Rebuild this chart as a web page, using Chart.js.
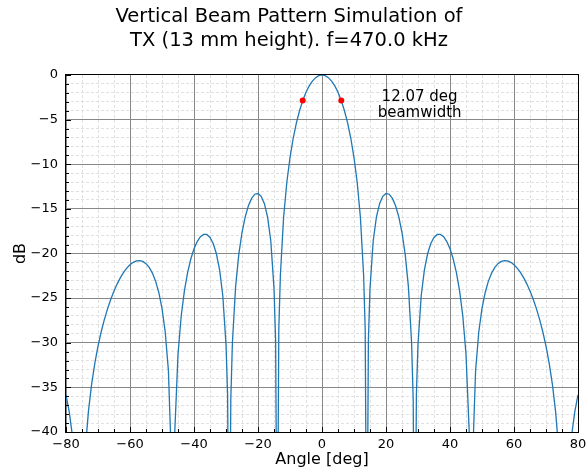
<!DOCTYPE html>
<html><head><meta charset="utf-8">
<script src="https://cdn.jsdelivr.net/npm/chart.js@4/dist/chart.umd.min.js"></script>
<style>html,body{margin:0;padding:0;background:#fff}canvas{display:block}</style>
</head><body>
<canvas id="c" width="588" height="474"></canvas>
<script>
const titleLines = ['Vertical Beam Pattern Simulation of', 'TX (13 mm height). f=470.0 kHz'];
const xAxisLabel = 'Angle [deg]';
const yAxisLabel = 'dB';

// beam pattern (deg, dB)
const angleDeg = [
 -80,-79,-78,-77,-76,-75,-74,-73,-72,-71,-70,-69,-68,-67,-66,-65,-64,-63,-62,-61,
 -60,-59,-58,-57,-56,-55,-54,-53,-52,-51,-50,-49,-48,-47,-46.5,-46,-45,-44,-43,-42,
 -41,-40,-39,-38,-37,-36,-35,-34,-33,-32,-31,-30,-29.5,-29,-28.5,-28,-27,-26,-25,-24,
 -23,-22,-21,-20,-19,-18,-17,-16,-15,-14.5,-14,-13.5,-13,-12,-11,-10,-9,-8,-7,-6,
 -5,-4,-3,-2,-1,0,1,2,3,4,5,6,7,8,9,10,11,12,13,13.5,
 14,14.5,15,16,17,18,19,20,21,22,23,24,25,26,27,28,28.5,29,29.5,30,
 31,32,33,34,35,36,37,38,39,40,41,42,43,44,45,46,46.5,47,48,49,
 50,51,52,53,54,55,56,57,58,59,60,61,62,63,64,65,66,67,68,69,
 70,71,72,73,74,75,76,77,78,79,80
];
const levelDb = [
 -35.84,-37.72,-40.41,-44.86,-56.22,-50.55,-42.13,-37.72,-34.66,-32.31,-30.39,-28.77,-27.38,-26.18,-25.12,-24.20,-23.40,-22.71,-22.12,-21.64,
 -21.26,-20.99,-20.83,-20.79,-20.89,-21.14,-21.56,-22.20,-23.10,-24.37,-26.15,-28.77,-33.11,-43.75,-55.5,-39.92,-31.28,-27.00,-24.18,-22.14,
 -20.62,-19.48,-18.66,-18.12,-17.86,-17.87,-18.20,-18.88,-20.03,-21.83,-24.74,-30.18,-35.77,-61.5,-36.40,-30.01,-23.71,-20.10,-17.65,-15.90,
 -14.66,-13.83,-13.36,-13.28,-13.60,-14.42,-15.93,-18.60,-23.91,-29.73,-58.8,-28.54,-22.38,-15.94,-12.05,-9.25,-7.09,-5.37,-3.98,-2.85,
 -1.94,-1.22,-0.68,-0.30,-0.07,0,-0.07,-0.30,-0.68,-1.22,-1.94,-2.85,-3.98,-5.37,-7.09,-9.25,-12.05,-15.94,-22.38,-28.54,
 -58.8,-29.73,-23.91,-18.60,-15.93,-14.42,-13.60,-13.28,-13.36,-13.83,-14.66,-15.90,-17.65,-20.10,-23.71,-30.01,-36.40,-61.5,-35.77,-30.18,
 -24.74,-21.83,-20.03,-18.88,-18.20,-17.87,-17.86,-18.12,-18.66,-19.48,-20.62,-22.14,-24.18,-27.00,-31.28,-39.92,-55.5,-43.75,-33.11,-28.77,
 -26.15,-24.37,-23.10,-22.20,-21.56,-21.14,-20.89,-20.79,-20.83,-20.99,-21.26,-21.64,-22.12,-22.71,-23.40,-24.20,-25.12,-26.18,-27.38,-28.77,
 -30.39,-32.31,-34.66,-37.72,-42.13,-50.55,-56.22,-44.86,-40.41,-37.72,-35.84
];

// -3 dB points
const halfPowerAngles = [-6.035, 6.035];
const halfPowerLevels = [-2.87, -2.87];

// annotation
const beamwidthText = ['12.07 deg', 'beamwidth'];
const beamwidthAt = [30.5, -3.36];

// axes
const xRange = [-80, 80];
const yRange = [-40, 0];
const xMajorStep = 20, xMinorStep = 5;
const yMajorStep = 5, yMinorStep = 1;

const FONT = 'DejaVu Sans';
const fmt = v => String(v).replace('-', '\u2212');

const framePlugin = {
  id: 'frame',
  afterDraw(chart) {
    const {ctx, chartArea: a, scales} = chart;
    ctx.save();
    ctx.strokeStyle = '#000';
    ctx.lineWidth = 1;
    const tick = (scale, len, horizontal) => {
      scale.ticks.forEach(t => {
        const p = Math.round(scale.getPixelForValue(t.value)) + 0.5;
        ctx.beginPath();
        if (horizontal) { ctx.moveTo(p, a.bottom); ctx.lineTo(p, a.bottom - len); }
        else { ctx.moveTo(a.left, p); ctx.lineTo(a.left + len, p); }
        ctx.stroke();
      });
    };
    tick(scales.xMinor, 3, true);
    tick(scales.x, 5, true);
    tick(scales.yMinor, 3, false);
    tick(scales.y, 5, false);
    ctx.strokeRect(Math.round(a.left) - 0.5, Math.round(a.top) - 0.5,
                   Math.round(a.right - a.left) + 1, Math.round(a.bottom - a.top) + 1);
    ctx.fillStyle = '#000';
    ctx.font = '15px "' + FONT + '"';
    ctx.textAlign = 'center';
    ctx.textBaseline = 'middle';
    const cx = scales.x.getPixelForValue(beamwidthAt[0]);
    const cy = scales.y.getPixelForValue(beamwidthAt[1]);
    ctx.fillText(beamwidthText[0], cx, cy - 8.3);
    ctx.fillText(beamwidthText[1], cx, cy + 8.3);
    ctx.restore();
  }
};

const noPadH = s => { s.paddingLeft = 0; s.paddingRight = 0; };
const noPadV = s => { s.paddingTop = 0; s.paddingBottom = 0; };

new Chart(document.getElementById('c'), {
  type: 'line',
  data: {
    datasets: [
      {
        label: 'pattern',
        data: angleDeg.map((a, i) => ({x: a, y: levelDb[i]})),
        borderColor: '#1f77b4', borderWidth: 1.3, pointRadius: 0, tension: 0,
        fill: false, xAxisID: 'x', yAxisID: 'y', order: 2
      },
      {
        label: 'half power',
        data: halfPowerAngles.map((a, i) => ({x: a, y: halfPowerLevels[i]})),
        showLine: false, pointRadius: 3, pointBackgroundColor: '#ff0000',
        pointBorderColor: '#ff0000', pointBorderWidth: 0, borderColor: '#ff0000',
        xAxisID: 'x', yAxisID: 'y', order: 1, clip: false
      }
    ]
  },
  options: {
    responsive: false, animation: false, devicePixelRatio: 1,
    layout: {padding: {left: 0, right: 10, top: 0, bottom: 0}},
    plugins: {
      legend: {display: false}, tooltip: {enabled: false},
      title: {
        display: true, text: titleLines, color: '#000',
        font: {family: FONT, size: 19.5, weight: 'normal', lineHeight: 1.23},
        padding: {top: 5, bottom: 22}
      }
    },
    scales: {
      xMinor: {
        type: 'linear', axis: 'x', position: 'bottom', min: xRange[0], max: xRange[1],
        ticks: {display: false, stepSize: xMinorStep},
        grid: {drawTicks: false, lineWidth: 1,
               color: c => (c.tick && c.tick.value % xMajorStep === 0) ? 'rgba(0,0,0,0)' : '#e0e0e0'},
        border: {display: false, dash: [3, 2]},
        afterFit: s => { s.height = 0; noPadH(s); }
      },
      yMinor: {
        type: 'linear', axis: 'y', position: 'left', min: yRange[0], max: yRange[1],
        ticks: {display: false, stepSize: yMinorStep},
        grid: {drawTicks: false, lineWidth: 1,
               color: c => (c.tick && c.tick.value % yMajorStep === 0) ? 'rgba(0,0,0,0)' : '#e0e0e0'},
        border: {display: false, dash: [3, 2]},
        afterFit: s => { s.width = 0; noPadV(s); }
      },
      x: {
        type: 'linear', position: 'bottom', min: xRange[0], max: xRange[1],
        ticks: {stepSize: xMajorStep, color: '#000', font: {family: FONT, size: 13},
                padding: 5, maxRotation: 0, autoSkip: false, callback: v => fmt(v)},
        grid: {drawTicks: false, color: '#888888', lineWidth: 1},
        border: {display: false},
        title: {display: true, text: xAxisLabel, color: '#000',
                font: {family: FONT, size: 16}, padding: {top: 0, bottom: 5}},
        afterFit: s => { s.height = 42; noPadH(s); }
      },
      y: {
        type: 'linear', position: 'left', min: yRange[0], max: yRange[1],
        ticks: {stepSize: yMajorStep, color: '#000', font: {family: FONT, size: 13},
                padding: 8, autoSkip: false, callback: v => fmt(v)},
        grid: {drawTicks: false, color: '#888888', lineWidth: 1},
        border: {display: false},
        title: {display: true, text: yAxisLabel, color: '#000',
                font: {family: FONT, size: 16}, padding: {top: 11.5, bottom: 0}},
        afterFit: s => { s.width = 66; noPadV(s); }
      }
    }
  },
  plugins: [framePlugin]
});
</script>
</body></html>
